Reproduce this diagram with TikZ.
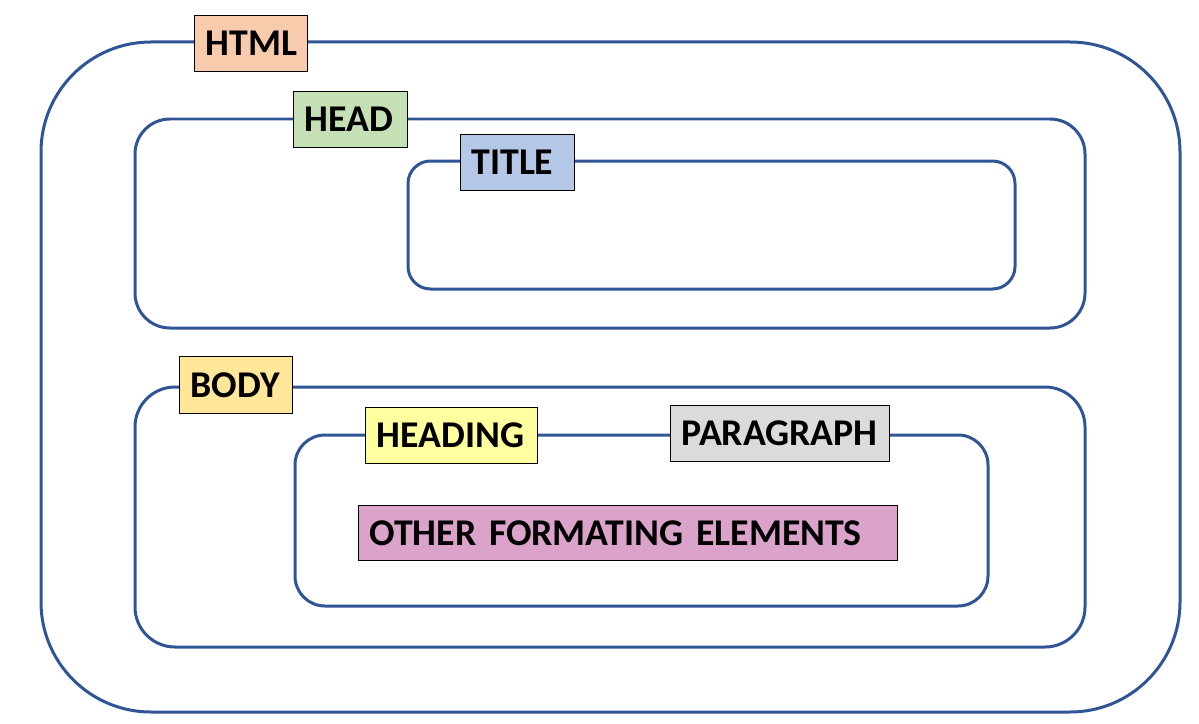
\documentclass[tikz,border=0pt]{standalone}
\usepackage{fontspec}
\setmainfont{Carlito}
\definecolor{frame}{HTML}{2F5597}
\definecolor{htmlc}{HTML}{F8CBAD}
\definecolor{headc}{HTML}{C5E0B4}
\definecolor{titlec}{HTML}{B4C7E7}
\definecolor{bodyc}{HTML}{FFE699}
\definecolor{headingc}{HTML}{FFFF9F}
\definecolor{parac}{HTML}{DBDBDB}
\definecolor{otherc}{HTML}{DBA3CA}
\begin{document}
\begin{tikzpicture}[x=0.02cm,y=-0.02cm,
	box/.style={draw=frame,line width=0.06cm},
	tag/.style={draw=black,line width=0.6pt,anchor=north west,minimum height=1.12cm,
		inner xsep=0.22cm,inner ysep=0pt,align=left,
		font=\fontsize{21.5}{24}\selectfont\bfseries}]
	\useasboundingbox (0,0) rectangle (1199,723);

	% Nested containers
	\draw[box,rounded corners=2.2cm] (41,42) rectangle (1180,712);
	\draw[box,rounded corners=0.7cm] (135,119) rectangle (1085,328);
	\draw[box,rounded corners=0.45cm] (408,161) rectangle (1015,289);
	\draw[box,rounded corners=0.8cm] (135,387) rectangle (1085,647);
	\draw[box,rounded corners=0.6cm] (295,435) rectangle (988,606);

	% Element labels
	\node[tag,fill=htmlc,text width=1.82cm] (html) at (194,15) {HTML};
	\node[tag,fill=headc,text width=1.84cm] (head) at (293,91) {HEAD};
	\node[tag,fill=titlec,text width=1.84cm] (title) at (460,134) {TITLE};
	\node[tag,fill=bodyc,text width=1.82cm,minimum height=1.14cm] (body) at (179,356) {BODY};
	\node[tag,fill=headingc,text width=3.0cm] (heading) at (365,407) {HEADING};
	\node[tag,fill=parac,text width=3.94cm] (paragraph) at (670,405) {PARAGRAPH};
	\node[tag,fill=otherc,text width=10.34cm,minimum height=1.1cm] (other) at (358,505) {OTHER FORMATING ELEMENTS};

\end{tikzpicture}
\end{document}
